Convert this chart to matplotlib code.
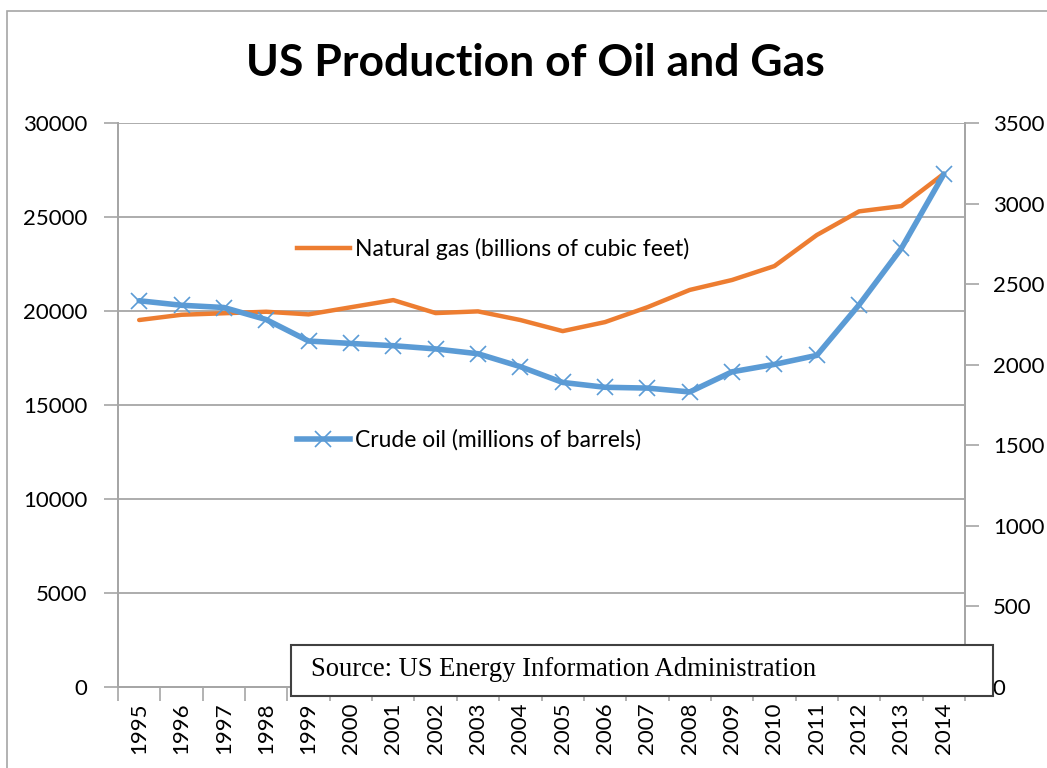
import matplotlib
matplotlib.use("Agg")
import matplotlib.pyplot as plt
from matplotlib.patches import Rectangle
from matplotlib.lines import Line2D
import numpy as np

years = [str(y) for y in range(1995, 2015)]
gas = [19520, 19800, 19880, 19960, 19820, 20200, 20580, 19890, 19980, 19520,
       18930, 19410, 20200, 21120, 21650, 22390, 24040, 25300, 25580, 27300]
oil = [2397, 2369, 2355, 2280, 2147, 2132, 2118, 2098, 2068, 1988,
       1890, 1860, 1855, 1831, 1956, 2002, 2058, 2372, 2723, 3183]

gas_label = "Natural gas (billions of cubic feet)"
oil_label = "Crude oil (millions of barrels)"
title = "US Production of Oil and Gas"
source = "Source: US Energy Information Administration"

plt.rcParams['font.family'] = ['Lato', 'DejaVu Sans']

fig = plt.figure(figsize=(10.47, 7.68), dpi=100)
W, H = 1047, 768
ax = fig.add_axes([118 / W, 1 - 687 / H, (965 - 118) / W, (687 - 123) / H])
ax2 = ax.twinx()

grey = '#a6a6a6'
orange = '#ED7D31'
blue = '#5B9BD5'

x = np.arange(len(years))
ax.plot(x, gas, color=orange, lw=3.2, solid_capstyle='round', zorder=3)
ax2.plot(x, oil, color=blue, lw=4.0, marker='x', markersize=11, markeredgewidth=1.2,
         solid_capstyle='round', zorder=3)

ax.set_xlim(-0.5, len(years) - 0.5)
ax.set_ylim(0, 30000)
ax.set_yticks(np.arange(0, 30001, 5000))
ax2.set_ylim(0, 3500)
ax2.set_yticks(np.arange(0, 3501, 500))

ax.set_xticks(np.arange(-0.5, len(years), 1.0))
ax.set_xticklabels([])
ax.set_xticks(x, minor=True)
ax.set_xticklabels(years, minor=True, rotation=90, fontsize=16)
ax.tick_params(axis='x', which='major', length=10, color=grey, width=1.2, direction='out')
ax.tick_params(axis='x', which='minor', length=0, pad=11)

ax.tick_params(axis='y', length=10, color=grey, width=1.2, labelsize=16, pad=12)
ax2.tick_params(axis='y', length=10, color=grey, width=1.2, labelsize=16, pad=10)

ax.grid(axis='y', color=grey, lw=1.3)
ax.set_axisbelow(True)
for a in (ax, ax2):
    a.spines['top'].set_visible(False)
    for s in ('left', 'right', 'bottom'):
        a.spines[s].set_color(grey)
        a.spines[s].set_linewidth(1.3)

fig.text(535 / W, 1 - 63 / H, title, ha='center', va='center',
         fontsize=32, fontweight='bold')

h1 = Line2D([], [], color=orange, lw=3.2)
h2 = Line2D([], [], color=blue, lw=4.0, marker='x', markersize=11, markeredgewidth=1.2)
leg1 = fig.legend([h1], [gas_label], loc='center left', bbox_to_anchor=(297 / W, 1 - 249 / H),
                  frameon=False, fontsize=16.5, handlelength=2.3, handletextpad=0.22,
                  borderpad=0, borderaxespad=0)
leg2 = fig.legend([h2], [oil_label], loc='center left', bbox_to_anchor=(297 / W, 1 - 440 / H),
                  frameon=False, fontsize=16.5, handlelength=2.3, handletextpad=0.22,
                  borderpad=0, borderaxespad=0, numpoints=1)

box = Rectangle((291 / W, 1 - 696 / H), (993 - 291) / W, (696 - 645) / H,
                transform=fig.transFigure, facecolor='white', edgecolor='#404040',
                lw=1.5, zorder=10)
fig.add_artist(box)
fig.text(311 / W, 1 - 670 / H, source, ha='left', va='center', fontsize=19.2,
         family='Liberation Serif', zorder=11)

frame = Rectangle((7 / W, -0.2), 1.2, 1 - 11 / H + 0.2, transform=fig.transFigure,
                  facecolor='none', edgecolor=grey, lw=1.2, zorder=0)
fig.add_artist(frame)

fig.savefig('out.png', dpi=100)
